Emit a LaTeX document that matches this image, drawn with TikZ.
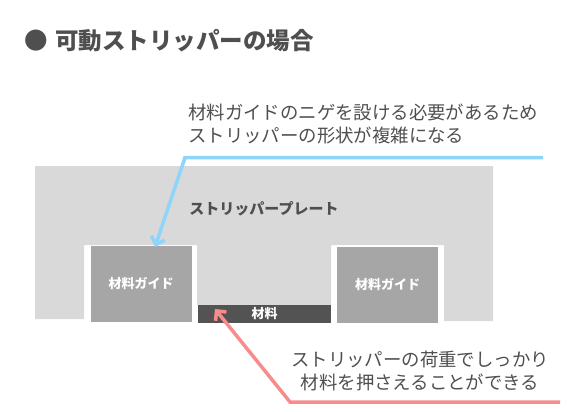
\documentclass[tikz,border=0pt]{standalone}
\usepackage{fontspec}
\setmainfont{Noto Sans CJK JP}
\usetikzlibrary{arrows.meta}
\definecolor{plategray}{HTML}{D9D9D9}
\definecolor{guidegray}{HTML}{A6A6A6}
\definecolor{workdark}{HTML}{535353}
\definecolor{textgray}{HTML}{4F4F4F}
\definecolor{noteblue}{HTML}{8FD4FA}
\definecolor{notepink}{HTML}{F78C8C}

\begin{document}
\begin{tikzpicture}[x=1pt,y=-1pt,
guidebox/.style={fill=guidegray, minimum width=101pt, minimum height=76pt, inner sep=0pt, text=white, font=\bfseries\fontsize{13}{15}\selectfont},
workbox/.style={fill=workdark, minimum width=133pt, minimum height=18pt, inner sep=0pt, text=white, font=\bfseries\fontsize{13}{15}\selectfont},
notetext/.style={text=textgray, inner sep=0pt, font=\fontsize{18.4}{22.5}\selectfont},
callout/.style={line width=3.5pt, -{Straight Barb[length=7pt,width=14pt]}}
]
    \useasboundingbox (0,0) rectangle (578,412);

    % stripper plate with the two reliefs
    \fill[plategray] (35,166) -- (493,166) -- (493,321) -- (444,321) -- (444,245)
        -- (331,245) -- (331,305) -- (197,305) -- (197,245) -- (84,245)
        -- (84,319) -- (35,319) -- cycle;
    \node [text=textgray, inner sep=0pt, font=\bfseries\fontsize{15}{17}\selectfont] (plate) at (264,209) {ストリッパープレート};

    \node [guidebox] (guideL) at (141,283.5) {材料ガイド};
    \node [guidebox] (guideR) at (387.5,284.5) {材料ガイド};
    \node [workbox] (work) at (264.5,314) {材料};

    \node [text=textgray, inner sep=0pt, anchor=west, font=\bfseries\fontsize{23.5}{26}\selectfont] (title) at (24,41) {●\hspace{7.5pt}可動ストリッパーの場合};

    \node [notetext, anchor=west, align=left] (noteTop) at (188,124) {材料ガイドのニゲを設ける必要があるため\\ストリッパーの形状が複雑になる};
    \node [notetext, align=center] (noteBot) at (420,371) {ストリッパーの荷重でしっかり\\材料を押さえることができる};

    \coordinate (blueStart) at (543,157.5);
    \coordinate (blueBend) at (185,157.5);
    \coordinate (blueEnd) at (155,247);
    \coordinate (pinkStart) at (560,402);
    \coordinate (pinkBend) at (290,402);
    \coordinate (pinkEnd) at (215,309);

    \draw [callout, noteblue] (blueStart) -- (blueBend) -- (blueEnd);
    \draw [callout, notepink] (pinkStart) -- (pinkBend) -- (pinkEnd);

\end{tikzpicture}
\end{document}
